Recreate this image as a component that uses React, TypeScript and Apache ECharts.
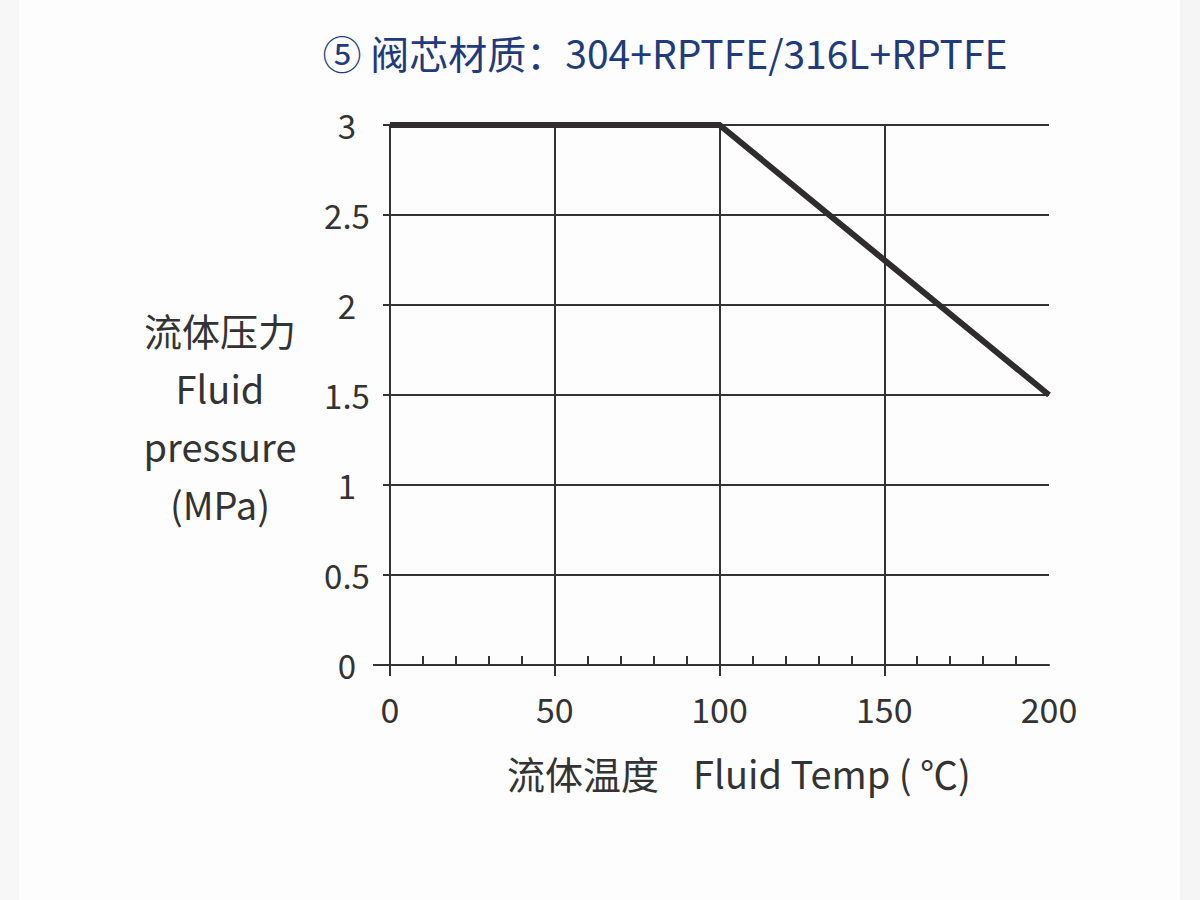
import React, { useEffect, useRef } from "react";
import * as echarts from "echarts";

const titleText = "⑤ 阀芯材质：304+RPTFE/316L+RPTFE";
const yNameLines = ["流体压力", "Fluid", "pressure", "(MPa)"];
const xNameText = "流体温度    Fluid Temp ( ℃)";

const tempValues = [0, 100, 200];
const pressureValues = [3, 3, 1.5];
const majorTickValues = [0, 50, 100, 150];
const minorTickValues = [10, 20, 30, 40, 60, 70, 80, 90, 110, 120, 130, 140, 160, 170, 180, 190];

const FONT = "'Noto Sans CJK SC', 'Noto Sans', sans-serif";
const INK = "#333333";

export default function App() {
  const ref = useRef<HTMLDivElement>(null);
  useEffect(() => {
    if (!ref.current) return;
    const chart = echarts.init(ref.current, null, { renderer: "svg" });
    const data = tempValues.map((t, i) => [t, pressureValues[i]]);
    chart.setOption({
      animation: false,
      backgroundColor: "#fdfdfd",
      textStyle: { fontFamily: FONT },
      grid: { left: 390, top: 125, width: 659, height: 540, containLabel: false },
      xAxis: [
        {
          type: "value",
          min: 0,
          max: 200,
          interval: 50,
          position: "bottom",
          axisLine: { show: true, lineStyle: { color: INK, width: 2 } },
          axisTick: {
            show: true,
            inside: false,
            length: 11,
            customValues: majorTickValues,
            lineStyle: { color: INK, width: 2 },
          },
          axisLabel: {
            show: true,
            margin: 26,
            fontSize: 34,
            color: INK,
            fontFamily: FONT,
          },
          splitLine: { show: true, lineStyle: { color: INK, width: 2 } },
        },
        {
          type: "value",
          min: 0,
          max: 200,
          interval: 10,
          position: "bottom",
          axisLine: { show: false },
          axisTick: {
            show: true,
            inside: true,
            length: 9,
            customValues: minorTickValues,
            lineStyle: { color: INK, width: 2 },
          },
          axisLabel: { show: false },
          splitLine: { show: false },
        },
      ],
      yAxis: {
        type: "value",
        min: 0,
        max: 3,
        interval: 0.5,
        axisLine: { show: true, lineStyle: { color: INK, width: 2 } },
        axisTick: { show: true, inside: false, length: 7, lineStyle: { color: INK, width: 2 } },
        axisLabel: {
          show: true,
          margin: 43,
          align: "center",
          fontSize: 33,
          color: INK,
          fontFamily: FONT,
          padding: [10, 0, 0, 0],
        },
        splitLine: { show: true, lineStyle: { color: INK, width: 2 } },
      },
      graphic: [
        { type: "rect", left: 0, top: 0, shape: { width: 19, height: 900 }, style: { fill: "#f7f7f7" }, silent: true },
        { type: "rect", left: 1180, top: 0, shape: { width: 20, height: 900 }, style: { fill: "#f5f5f5" }, silent: true },
        {
          type: "line",
          shape: { x1: 373, y1: 665, x2: 390, y2: 665 },
          style: { stroke: INK, lineWidth: 2 },
          silent: true,
        },
        {
          type: "text",
          x: 665,
          y: 52,
          style: {
            text: titleText,
            fontSize: 39,
            fontFamily: FONT,
            fill: "#1f3b7c",
            align: "center",
            verticalAlign: "middle",
          },
        },
        {
          type: "text",
          x: 220,
          y: 416,
          style: {
            text: yNameLines.join("\n"),
            fontSize: 38,
            lineHeight: 58,
            fontFamily: FONT,
            fill: INK,
            align: "center",
            verticalAlign: "middle",
          },
        },
        {
          type: "text",
          x: 739,
          y: 772,
          style: {
            text: xNameText,
            fontSize: 38,
            fontFamily: FONT,
            fill: INK,
            align: "center",
            verticalAlign: "middle",
          },
        },
      ],
      series: [
        {
          type: "line",
          data,
          xAxisIndex: 0,
          yAxisIndex: 0,
          symbol: "none",
          clip: false,
          lineStyle: { color: "#302c2d", width: 6, join: "miter", cap: "butt" },
          z: 5,
        },
      ],
    });
    return () => chart.dispose();
  }, []);
  return (
    <div
      ref={ref}
      style={{ position: "fixed", left: 0, top: 0, width: 1200, height: 900 }}
    />
  );
}
